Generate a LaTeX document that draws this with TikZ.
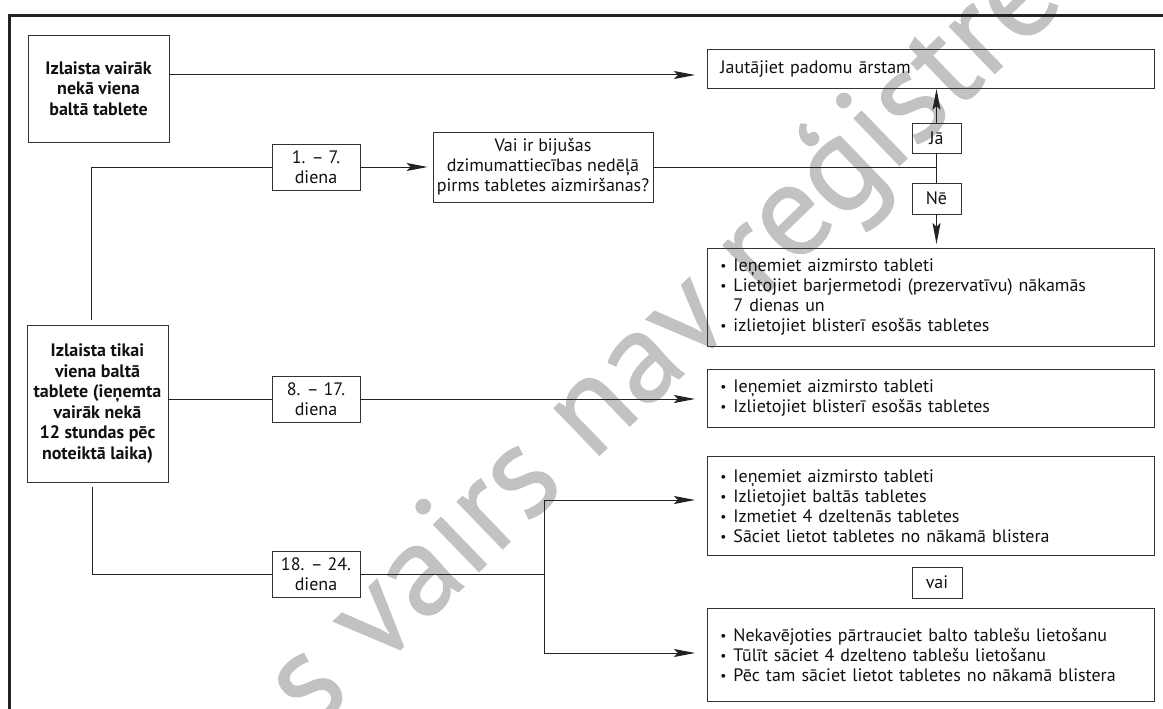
\documentclass[tikz,border=0pt]{standalone}
\usepackage{fontspec}
\setmainfont{PT Sans}
\newfontfamily\wmfont[FakeBold=0.8]{PT Sans}
\usetikzlibrary{arrows.meta,calc}
\definecolor{linec}{HTML}{222222}
\definecolor{boxc}{HTML}{333333}
\definecolor{txtc}{HTML}{111111}
\definecolor{wmc}{HTML}{C2C2C2}
\newcommand\bul{\makebox[13pt][l]{\raisebox{1.2pt}{\scalebox{0.75}{•}}}}
\newcommand\ind{\hspace*{13pt}}
\begin{document}
\begin{tikzpicture}[x=1pt,y=-1pt,
  box/.style={draw=boxc, line width=0.9pt, inner sep=0pt, text=txtc,
    font=\fontsize{18pt}{20pt}\selectfont, align=center},
  boldbox/.style={box, font=\fontsize{18pt}{20.5pt}\selectfont\bfseries},
  listbox/.style={box, anchor=north west, minimum width=447pt, text width=421pt,
    inner xsep=13pt, align=left},
  wire/.style={draw=linec, line width=1pt},
  arr/.style={wire, -{Stealth[length=21pt,width=8pt,inset=4pt]}},
  wmtext/.style={text=wmc, inner sep=0pt, font=\wmfont\fontsize{131pt}{131pt}\selectfont}
]
\useasboundingbox (0,0) rectangle (1163,709);
\fill[white] (0,0) rectangle (1163,709);

% watermark
\node[wmtext, rotate=44, anchor=base west] (wm) at (313,732) {s vairs nav reģistre};

% frame
\draw[line width=3pt, draw=linec, line join=miter] (9.5,709) -- (9.5,16) -- (1163,16);

% nodes
\node[boldbox, minimum width=141pt, minimum height=107pt] (A) at (98.5,88.5)
  {Izlaista vairāk\\nekā viena\\baltā tablete};
\node[boldbox, minimum width=141pt, minimum height=157pt] (B) at (97.5,403.5)
  {Izlaista tikai\\viena baltā\\tablete (ieņemta\\vairāk nekā\\12 stundas pēc\\noteiktā laika)};
\node[box, minimum width=88pt, minimum height=46pt] (L1) at (316,167) {1. – 7.\\diena};
\node[box, minimum width=88pt, minimum height=46pt] (L2) at (316,399) {8. – 17.\\diena};
\node[box, minimum width=88pt, minimum height=46pt] (L3) at (316,574.5) {18. – 24.\\diena};
\node[box, minimum width=220pt, minimum height=70pt] (Q) at (543,167)
  {Vai ir bijušas\\dzimumattiecības nedēļā\\pirms tabletes aizmiršanas?};
\node[listbox, minimum height=39pt] (J) at (707,49) {Jautājiet padomu ārstam};
\node[box, minimum width=49pt, minimum height=30pt] (Ja) at (936.5,138) {Jā};
\node[box, minimum width=49pt, minimum height=31pt] (Ne) at (936.5,198.5) {Nē};
\node[listbox, minimum height=98pt] (C) at (707,248)
  {\bul Ieņemiet aizmirsto tableti\\\bul Lietojiet barjermetodi (prezervatīvu) nākamās\\\ind 7 dienas un\\\bul izlietojiet blisterī esošās tabletes};
\node[listbox, minimum height=58pt] (D) at (707,369)
  {\bul Ieņemiet aizmirsto tableti\\\bul Izlietojiet blisterī esošās tabletes};
\node[listbox, minimum height=99pt] (E) at (707,456)
  {\bul Ieņemiet aizmirsto tableti\\\bul Izlietojiet baltās tabletes\\\bul Izmetiet 4 dzeltenās tabletes\\\bul Sāciet lietot tabletes no nākamā blistera};
\node[box, minimum width=50pt, minimum height=31pt] (V) at (937,582.5) {vai};
\node[listbox, minimum height=93pt] (F) at (707,608)
  {\bul Nekavējoties pārtrauciet balto tablešu lietošanu\\\bul Tūlīt sāciet 4 dzelteno tablešu lietošanu\\\bul Pēc tam sāciet lietot tabletes no nākamā blistera};

% helper coordinates
\coordinate (yA) at (0,75);
\coordinate (x1) at (91,0);
\coordinate (x2) at (92,0);
\coordinate (xb) at (544,0);
\coordinate (yE) at (0,500);
\coordinate (yF) at (0,653);

% connectors
\draw[arr, shorten >=12pt] (A.east |- yA) -- (J.west |- yA);
\draw[wire] ($(B.north -| x1)+(0,-5)$) |- (L1.west);
\draw[arr, shorten >=5pt] (L1.east) -- (Q.west);
\draw[wire] (Q.east) -- (Q.east -| Ja.south);
\draw[wire] (Ja.south) -- (Ne.north);
\draw[arr] (Ja.north) -- (J.south -| Ja.north);
\draw[arr, shorten >=4pt] (Ne.south) -- (C.north -| Ne.south);
\draw[wire] (B.east |- L2.west) -- (L2.west);
\draw[arr, shorten >=12pt] (L2.east) -- (D.west |- L2.east);
\draw[wire] ($(B.south -| x2)+(0,5)$) |- (L3.west);
\draw[wire] (L3.east) -- (L3.east -| xb);
\draw[wire] (xb |- yE) -- (xb |- yF);
\draw[arr, shorten >=12pt] (xb |- yE) -- (E.west |- yE);
\draw[arr, shorten >=12pt] (xb |- yF) -- (F.west |- yF);
\end{tikzpicture}
\end{document}
